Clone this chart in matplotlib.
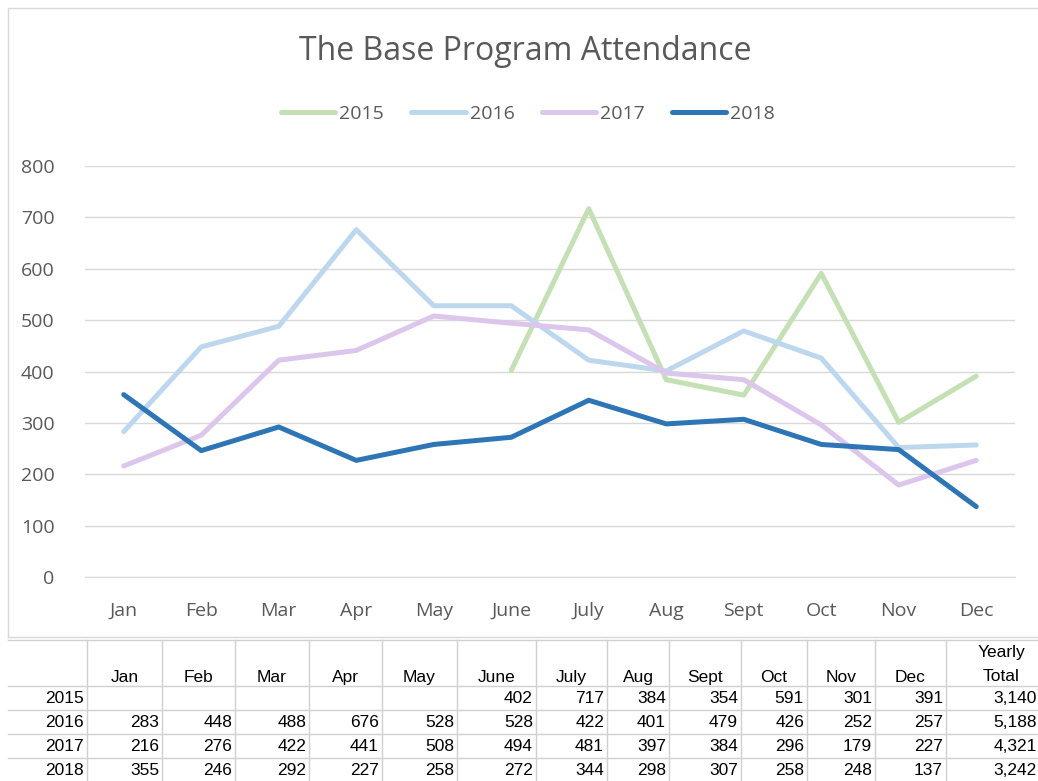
import numpy as np
import matplotlib.pyplot as plt
from matplotlib.lines import Line2D

months = ['Jan', 'Feb', 'Mar', 'Apr', 'May', 'June', 'July', 'Aug', 'Sept', 'Oct', 'Nov', 'Dec']
years = ['2015', '2016', '2017', '2018']
att_2015 = [np.nan, np.nan, np.nan, np.nan, np.nan, 402, 717, 384, 354, 591, 301, 391]
att_2016 = [283, 448, 488, 676, 528, 528, 422, 401, 479, 426, 252, 257]
att_2017 = [216, 276, 422, 441, 508, 494, 481, 397, 384, 296, 179, 227]
att_2018 = [355, 246, 292, 227, 258, 272, 344, 298, 307, 258, 248, 137]
totals = ['3,140', '5,188', '4,321', '3,242']

series = [att_2015, att_2016, att_2017, att_2018]
colors = ['#c5e0b4', '#bdd7ee', '#dcc6ec', '#2e75b6']

W, H = 1038, 781
fig = plt.figure(figsize=(W / 100, H / 100), dpi=100)
fig.patch.set_facecolor('white')

chart_font = ['Open Sans', 'DejaVu Sans']
grid_c = '#d9d9d9'
text_c = '#595959'

# overlay in pixel coords for the border and the table
bg = fig.add_axes([0, 0, 1, 1])
bg.set_xlim(0, W)
bg.set_ylim(H, 0)
bg.axis('off')
bg.plot([8, 8, W + 5, W + 5, 8], [637, 8, 8, 637, 637], color='#d9d9d9', lw=1)

# plot area: x 85..1015, y 166..577 (px)
ax = fig.add_axes([85 / W, 1 - 577 / H, (1015 - 85) / W, (577 - 166) / H])
x = np.arange(len(months))
for vals, c, yr in zip(series, colors, years):
    ax.plot(x, vals, color=c, lw=3.6, label=yr, solid_capstyle='round')
ax.set_xlim(-0.5, 11.5)
ax.set_ylim(0, 800)
ax.set_yticks(range(0, 801, 100))
ax.set_xticks(x)
ax.set_xticklabels(months)
ax.grid(axis='y', color=grid_c, lw=1)
ax.set_axisbelow(True)
for s in ['top', 'right', 'left']:
    ax.spines[s].set_visible(False)
ax.spines['bottom'].set_color(grid_c)
ax.tick_params(length=0, labelsize=14, labelcolor=text_c, pad=18)
ax.tick_params(axis='y', pad=22)
for lab in ax.get_xticklabels() + ax.get_yticklabels():
    lab.set_family(chart_font)

fig.text(525 / W, 1 - 51 / H, 'The Base Program Attendance', ha='center', va='center',
         fontsize=23, color=text_c, family=chart_font)
handles = [Line2D([0], [0], color=c, lw=3.6, solid_capstyle='round') for c in colors]
fig.legend(handles, years, loc='center', bbox_to_anchor=(528 / W, 1 - 114 / H), ncol=4,
           frameon=False, handlelength=2.8, handletextpad=0.2, columnspacing=1.4,
           prop={'family': chart_font, 'size': 14}, labelcolor=text_c)

# table
edges = [8, 87, 162, 235, 309, 382, 457, 536, 607, 669, 741, 807, 875, 946, W]
hlines = [640, 686, 710, 734, 758]
tab_c = '#d0d0d0'
for yy in hlines:
    bg.plot([8, W], [yy, yy], color=tab_c, lw=1)
for xx in edges[1:-1]:
    bg.plot([xx, xx], [640, H], color=tab_c, lw=1)

tfont = ['Liberation Sans', 'DejaVu Sans']
fs = 12.5
for i, m in enumerate(months):
    bg.text((edges[i + 1] + edges[i + 2]) / 2, 682, m, ha='center', va='baseline',
            fontsize=fs, family=tfont)
bg.text(1001, 657, 'Yearly', ha='center', va='baseline', fontsize=fs, family=tfont)
bg.text(1001, 681, 'Total', ha='center', va='baseline', fontsize=fs, family=tfont)

for r, (yr, vals, tot) in enumerate(zip(years, series, totals)):
    yb = 703 + 24 * r
    bg.text(edges[1] - 3, yb, yr, ha='right', va='baseline', fontsize=fs, family=tfont)
    for i, v in enumerate(vals):
        if not np.isnan(v):
            bg.text(edges[i + 2] - 3, yb, f'{int(v)}', ha='right', va='baseline',
                    fontsize=fs, family=tfont)
    bg.text(W - 1, yb, tot, ha='right', va='baseline', fontsize=fs, family=tfont)

fig.savefig('out.png', dpi=100)
